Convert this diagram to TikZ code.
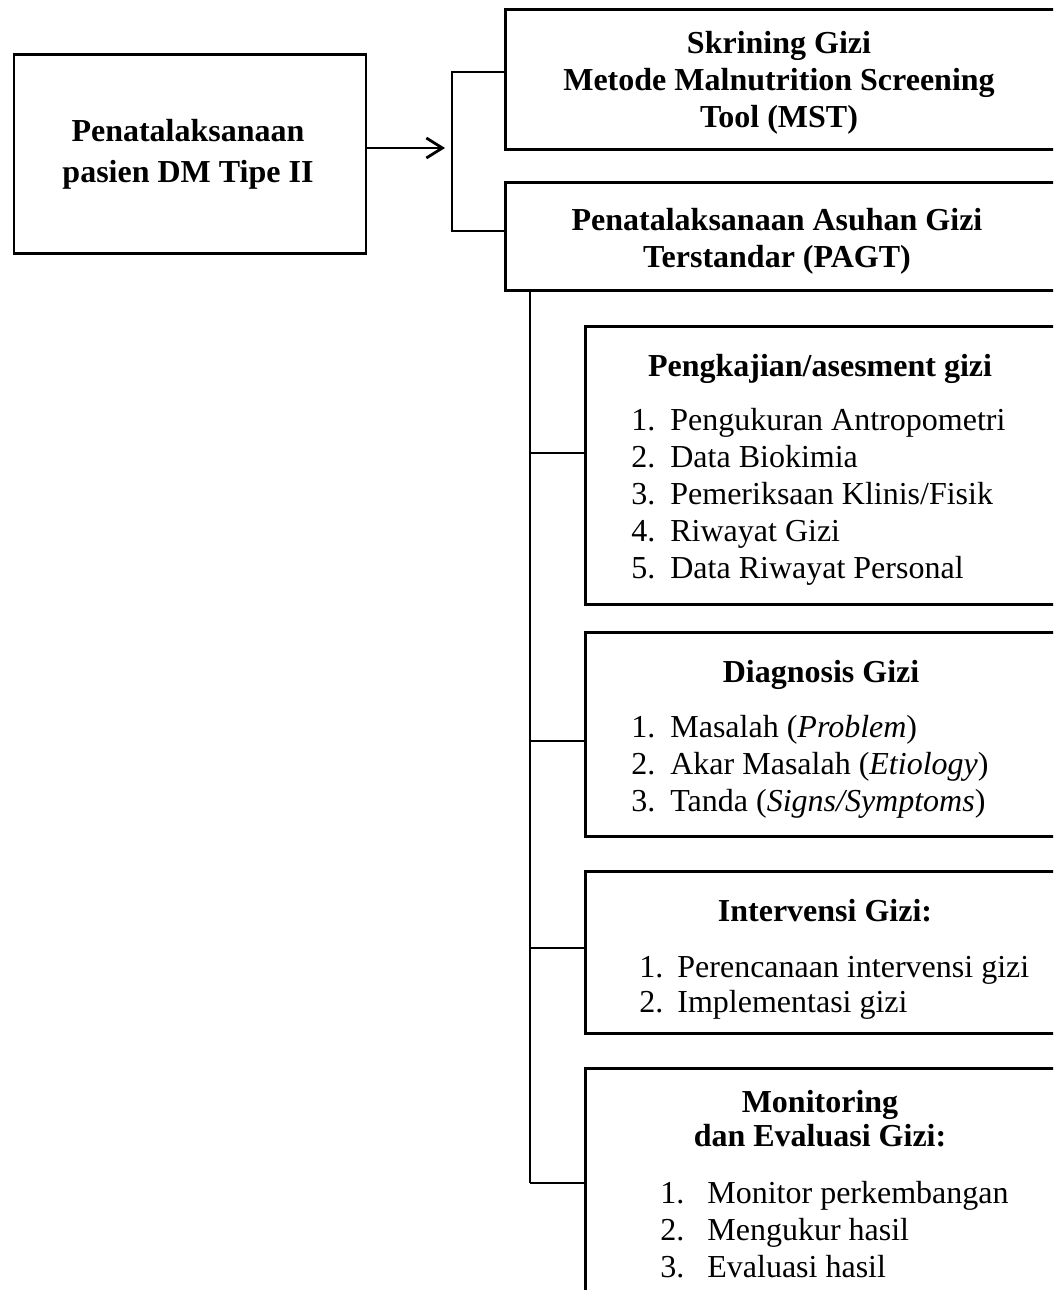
\documentclass[tikz,border=0pt]{standalone}
\usepackage{fontspec}
\setmainfont{Liberation Serif}
\usetikzlibrary{arrows.meta}
\newcommand{\bigfont}{\fontsize{32}{37}\selectfont}
\begin{document}
\begin{tikzpicture}[x=1pt,y=-1pt,
  line width=2.8pt,
  box/.style={draw, rectangle, inner sep=0pt, line width=2.8pt, anchor=north west},
  head/.style={inner sep=0pt, anchor=base, font=\bigfont\bfseries, align=center},
  lst/.style={inner sep=0pt, anchor=base west, font=\bigfont},
  conn/.style={line width=2.8pt}]
\path[use as bounding box] (0,0) rectangle (1053,1290);
\clip (0,0) rectangle (1053,1290);
% boxes
\node[box, minimum width=352pt, minimum height=199pt] (pen) at (12.5,53) {};
\node[box, minimum width=560pt, minimum height=140pt] (skr) at (504,8) {};
\node[box, minimum width=560pt, minimum height=108pt] (pagt) at (504,181) {};
\node[box, minimum width=480pt, minimum height=278pt] (ases) at (584,325) {};
\node[box, minimum width=480pt, minimum height=204pt] (diag) at (584,631) {};
\node[box, minimum width=480pt, minimum height=162pt] (interv) at (584,870) {};
\node[box, minimum width=480pt, minimum height=260pt] (monev) at (584,1067) {};
% texts
\node[head] (pent) at (188,141) {\begin{tabular}[t]{@{}c@{}}Penatalaksanaan\\[4pt]pasien DM Tipe II\end{tabular}};
\node[head] (skrt) at (779,53) {\begin{tabular}[t]{@{}c@{}}Skrining Gizi\\Metode Malnutrition Screening\\Tool (MST)\end{tabular}};
\node[head] (pagtt) at (777,230) {\begin{tabular}[t]{@{}c@{}}Penatalaksanaan Asuhan Gizi\\Terstandar (PAGT)\end{tabular}};
\node[head] (asest) at (820,376) {Pengkajian/asesment gizi};
\node[lst] (asesl) at (630,430) {\begin{tabular}[t]{@{}l@{\hspace{15pt}}l@{}}1.&Pengukuran Antropometri\\2.&Data Biokimia\\3.&Pemeriksaan Klinis/Fisik\\4.&Riwayat Gizi\\5.&Data Riwayat Personal\end{tabular}};
\node[head] (diagt) at (821,682) {Diagnosis Gizi};
\node[lst] (diagl) at (630,737) {\begin{tabular}[t]{@{}l@{\hspace{15pt}}l@{}}1.&Masalah (\textit{Problem})\\2.&Akar Masalah (\textit{Etiology})\\3.&Tanda (\textit{Signs/Symptoms})\end{tabular}};
\node[head] (intervt) at (825,921) {Intervensi Gizi:};
\node[lst] (intervl) at (638,977) {\fontsize{32}{35}\selectfont\begin{tabular}[t]{@{}l@{\hspace{14pt}}l@{}}1.&Perencanaan intervensi gizi\\2.&Implementasi gizi\end{tabular}};
\node[head] (monevt) at (820,1112) {\fontsize{32}{34}\selectfont\begin{tabular}[t]{@{}c@{}}Monitoring\\dan Evaluasi Gizi:\end{tabular}};
\node[lst] (monevl) at (659,1203) {\begin{tabular}[t]{@{}l@{\hspace{23pt}}l@{}}1.&Monitor perkembangan\\2.&Mengukur hasil\\3.&Evaluasi hasil\end{tabular}};
% connectors
\coordinate (tip) at (445,148);
\draw[conn, -{Straight Barb[length=16pt,width=20pt,line width=2.8pt]}] (pen.east |- tip) -- (tip);
\coordinate (brtop) at (452,72);
\coordinate (brbot) at (452,231);
\draw[conn] (skr.west |- brtop) -- (brtop) -- (brbot) -- (pagt.west |- brbot);
\coordinate (trunk) at (530,0);
\coordinate (j1) at (530,453);
\coordinate (j2) at (530,741);
\coordinate (j3) at (530,948);
\coordinate (j4) at (530,1183);
\draw[conn] (pagt.south -| trunk) -- (j4);
\draw[conn] (j1) -- (ases.west |- j1);
\draw[conn] (j2) -- (diag.west |- j2);
\draw[conn] (j3) -- (interv.west |- j3);
\draw[conn] (j4) -- (monev.west |- j4);
\end{tikzpicture}
\end{document}
